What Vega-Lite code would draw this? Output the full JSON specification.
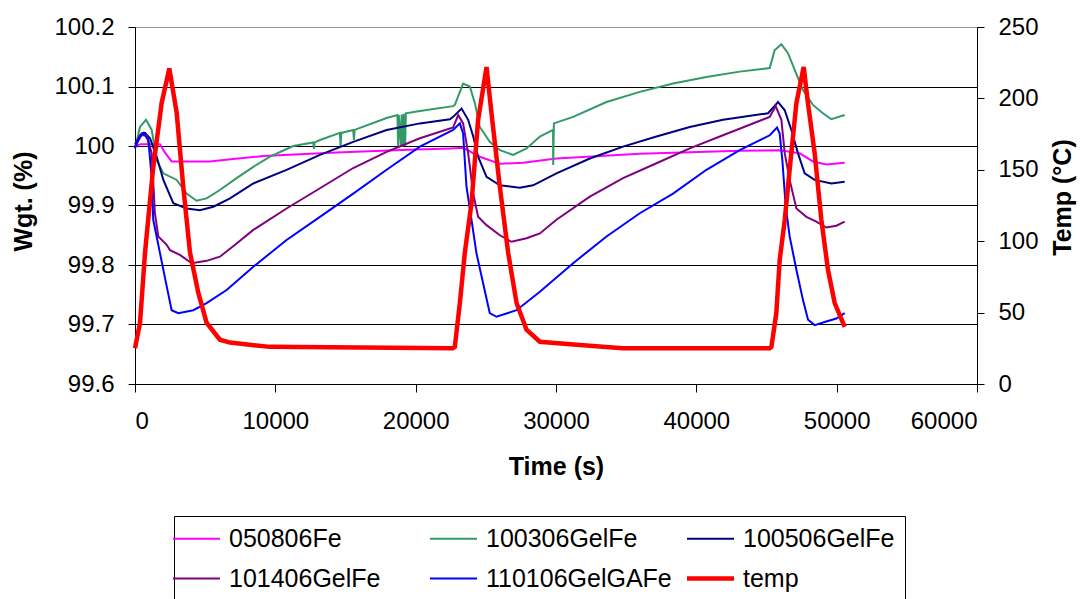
{
"$schema": "https://vega.github.io/schema/vega-lite/v6.json",
"width": 842, "height": 357,
"autosize": {"type": "none"},
"padding": {"left": 135, "top": 27, "right": 103, "bottom": 215},
"background": "white",
"config": {
  "font": "Liberation Sans",
  "view": {"stroke": "#999", "strokeWidth": 1},
  "axis": {"labelFont": "Liberation Sans", "labelFontSize": 24, "labelColor": "#000", "titleFont": "Liberation Sans", "titleFontSize": 25, "titleFontWeight": "bold", "titleColor": "#000", "domainColor": "#000", "tickColor": "#000", "domainWidth": 1, "tickWidth": 1}
},
"data": {"values": [
{"s":"050806Fe","t":0,"v":100.0},{"s":"050806Fe","t":400,"v":100.003},{"s":"050806Fe","t":1780,"v":100.003},{"s":"050806Fe","t":2100,"v":99.99},{"s":"050806Fe","t":2610,"v":99.974},{"s":"050806Fe","t":5340,"v":99.974},{"s":"050806Fe","t":6980,"v":99.978},{"s":"050806Fe","t":8680,"v":99.982},{"s":"050806Fe","t":9120,"v":99.983},{"s":"050806Fe","t":14360,"v":99.989},{"s":"050806Fe","t":20000,"v":99.994},{"s":"050806Fe","t":22500,"v":99.996},{"s":"050806Fe","t":23380,"v":99.997},{"s":"050806Fe","t":24570,"v":99.982},{"s":"050806Fe","t":26000,"v":99.970},{"s":"050806Fe","t":27650,"v":99.972},{"s":"050806Fe","t":30030,"v":99.979},{"s":"050806Fe","t":35970,"v":99.987},{"s":"050806Fe","t":43090,"v":99.992},{"s":"050806Fe","t":45940,"v":99.993},{"s":"050806Fe","t":47360,"v":99.988},{"s":"050806Fe","t":48310,"v":99.974},{"s":"050806Fe","t":49260,"v":99.969},{"s":"050806Fe","t":50570,"v":99.972},
{"s":"100306GelFe","t":0,"v":99.996},{"s":"100306GelFe","t":356,"v":100.032},{"s":"100306GelFe","t":783,"v":100.044},{"s":"100306GelFe","t":1190,"v":100.027},{"s":"100306GelFe","t":1545,"v":99.976},{"s":"100306GelFe","t":2020,"v":99.954},{"s":"100306GelFe","t":2970,"v":99.943},{"s":"100306GelFe","t":3680,"v":99.920},{"s":"100306GelFe","t":4390,"v":99.908},{"s":"100306GelFe","t":5100,"v":99.912},{"s":"100306GelFe","t":6050,"v":99.926},{"s":"100306GelFe","t":7240,"v":99.946},{"s":"100306GelFe","t":8430,"v":99.965},{"s":"100306GelFe","t":9620,"v":99.982},{"s":"100306GelFe","t":11270,"v":100.000},{"s":"100306GelFe","t":12700,"v":100.006},{"s":"100306GelFe","t":12750,"v":99.995},{"s":"100306GelFe","t":12800,"v":100.006},{"s":"100306GelFe","t":13180,"v":100.010},{"s":"100306GelFe","t":14600,"v":100.022},{"s":"100306GelFe","t":14650,"v":99.999},{"s":"100306GelFe","t":14700,"v":100.022},{"s":"100306GelFe","t":15550,"v":100.027},{"s":"100306GelFe","t":15600,"v":100.010},{"s":"100306GelFe","t":15650,"v":100.027},{"s":"100306GelFe","t":17930,"v":100.047},{"s":"100306GelFe","t":18700,"v":100.052},{"s":"100306GelFe","t":18750,"v":99.999},{"s":"100306GelFe","t":18800,"v":100.052},{"s":"100306GelFe","t":18950,"v":99.999},{"s":"100306GelFe","t":19000,"v":100.053},{"s":"100306GelFe","t":19100,"v":99.999},{"s":"100306GelFe","t":19150,"v":100.054},{"s":"100306GelFe","t":19250,"v":100.000},{"s":"100306GelFe","t":19300,"v":100.055},{"s":"100306GelFe","t":20300,"v":100.059},{"s":"100306GelFe","t":22670,"v":100.067},{"s":"100306GelFe","t":22790,"v":100.069},{"s":"100306GelFe","t":23380,"v":100.105},{"s":"100306GelFe","t":23860,"v":100.100},{"s":"100306GelFe","t":24220,"v":100.072},{"s":"100306GelFe","t":24570,"v":100.032},{"s":"100306GelFe","t":25280,"v":100.007},{"s":"100306GelFe","t":26000,"v":99.993},{"s":"100306GelFe","t":26950,"v":99.985},{"s":"100306GelFe","t":27900,"v":99.996},{"s":"100306GelFe","t":28850,"v":100.016},{"s":"100306GelFe","t":29790,"v":100.027},{"s":"100306GelFe","t":29800,"v":99.968},{"s":"100306GelFe","t":29850,"v":100.038},{"s":"100306GelFe","t":31220,"v":100.049},{"s":"100306GelFe","t":33600,"v":100.074},{"s":"100306GelFe","t":35970,"v":100.091},{"s":"100306GelFe","t":38340,"v":100.105},{"s":"100306GelFe","t":40720,"v":100.116},{"s":"100306GelFe","t":43090,"v":100.125},{"s":"100306GelFe","t":45230,"v":100.131},{"s":"100306GelFe","t":45580,"v":100.161},{"s":"100306GelFe","t":46060,"v":100.171},{"s":"100306GelFe","t":46530,"v":100.156},{"s":"100306GelFe","t":47010,"v":100.128},{"s":"100306GelFe","t":47600,"v":100.094},{"s":"100306GelFe","t":48310,"v":100.069},{"s":"100306GelFe","t":49020,"v":100.055},{"s":"100306GelFe","t":49620,"v":100.045},{"s":"100306GelFe","t":50570,"v":100.052},
{"s":"100506GelFe","t":0,"v":100.003},{"s":"100506GelFe","t":475,"v":100.021},{"s":"100506GelFe","t":712,"v":100.022},{"s":"100506GelFe","t":1070,"v":100.013},{"s":"100506GelFe","t":1545,"v":99.982},{"s":"100506GelFe","t":2020,"v":99.943},{"s":"100506GelFe","t":2730,"v":99.904},{"s":"100506GelFe","t":3680,"v":99.895},{"s":"100506GelFe","t":4630,"v":99.892},{"s":"100506GelFe","t":5580,"v":99.898},{"s":"100506GelFe","t":6770,"v":99.912},{"s":"100506GelFe","t":8430,"v":99.937},{"s":"100506GelFe","t":10800,"v":99.960},{"s":"100506GelFe","t":13180,"v":99.985},{"s":"100506GelFe","t":15550,"v":100.007},{"s":"100506GelFe","t":17930,"v":100.027},{"s":"100506GelFe","t":20300,"v":100.038},{"s":"100506GelFe","t":22440,"v":100.045},{"s":"100506GelFe","t":22670,"v":100.049},{"s":"100506GelFe","t":23270,"v":100.063},{"s":"100506GelFe","t":23740,"v":100.044},{"s":"100506GelFe","t":24100,"v":100.016},{"s":"100506GelFe","t":24450,"v":99.982},{"s":"100506GelFe","t":25050,"v":99.948},{"s":"100506GelFe","t":26000,"v":99.934},{"s":"100506GelFe","t":27420,"v":99.930},{"s":"100506GelFe","t":28370,"v":99.934},{"s":"100506GelFe","t":30030,"v":99.954},{"s":"100506GelFe","t":32410,"v":99.979},{"s":"100506GelFe","t":34780,"v":99.999},{"s":"100506GelFe","t":37160,"v":100.016},{"s":"100506GelFe","t":39530,"v":100.032},{"s":"100506GelFe","t":41900,"v":100.044},{"s":"100506GelFe","t":45110,"v":100.055},{"s":"100506GelFe","t":45820,"v":100.074},{"s":"100506GelFe","t":46300,"v":100.060},{"s":"100506GelFe","t":46770,"v":100.027},{"s":"100506GelFe","t":47240,"v":99.988},{"s":"100506GelFe","t":47720,"v":99.954},{"s":"100506GelFe","t":48430,"v":99.943},{"s":"100506GelFe","t":49620,"v":99.937},{"s":"100506GelFe","t":50570,"v":99.940},
{"s":"101406GelFe","t":0,"v":100.000},{"s":"101406GelFe","t":475,"v":100.018},{"s":"101406GelFe","t":830,"v":100.018},{"s":"101406GelFe","t":1190,"v":99.988},{"s":"101406GelFe","t":1420,"v":99.887},{"s":"101406GelFe","t":1660,"v":99.848},{"s":"101406GelFe","t":2260,"v":99.834},{"s":"101406GelFe","t":2490,"v":99.825},{"s":"101406GelFe","t":3200,"v":99.817},{"s":"101406GelFe","t":4040,"v":99.803},{"s":"101406GelFe","t":5100,"v":99.807},{"s":"101406GelFe","t":6050,"v":99.814},{"s":"101406GelFe","t":7240,"v":99.836},{"s":"101406GelFe","t":8430,"v":99.859},{"s":"101406GelFe","t":10800,"v":99.895},{"s":"101406GelFe","t":13180,"v":99.929},{"s":"101406GelFe","t":15550,"v":99.963},{"s":"101406GelFe","t":17930,"v":99.990},{"s":"101406GelFe","t":20300,"v":100.013},{"s":"101406GelFe","t":22670,"v":100.031},{"s":"101406GelFe","t":23030,"v":100.052},{"s":"101406GelFe","t":23380,"v":100.038},{"s":"101406GelFe","t":23740,"v":99.988},{"s":"101406GelFe","t":24100,"v":99.920},{"s":"101406GelFe","t":24450,"v":99.881},{"s":"101406GelFe","t":25050,"v":99.867},{"s":"101406GelFe","t":26000,"v":99.850},{"s":"101406GelFe","t":26830,"v":99.839},{"s":"101406GelFe","t":27900,"v":99.845},{"s":"101406GelFe","t":28850,"v":99.853},{"s":"101406GelFe","t":30030,"v":99.876},{"s":"101406GelFe","t":32410,"v":99.915},{"s":"101406GelFe","t":34780,"v":99.946},{"s":"101406GelFe","t":37160,"v":99.971},{"s":"101406GelFe","t":39530,"v":99.996},{"s":"101406GelFe","t":41900,"v":100.018},{"s":"101406GelFe","t":45230,"v":100.049},{"s":"101406GelFe","t":45650,"v":100.067},{"s":"101406GelFe","t":46060,"v":100.044},{"s":"101406GelFe","t":46300,"v":99.988},{"s":"101406GelFe","t":46650,"v":99.943},{"s":"101406GelFe","t":47130,"v":99.895},{"s":"101406GelFe","t":47840,"v":99.881},{"s":"101406GelFe","t":48550,"v":99.873},{"s":"101406GelFe","t":49260,"v":99.863},{"s":"101406GelFe","t":49980,"v":99.866},{"s":"101406GelFe","t":50570,"v":99.873},
{"s":"110106GelGAFe","t":0,"v":99.996},{"s":"110106GelGAFe","t":356,"v":100.018},{"s":"110106GelGAFe","t":593,"v":100.022},{"s":"110106GelGAFe","t":950,"v":100.010},{"s":"110106GelGAFe","t":1190,"v":99.948},{"s":"110106GelGAFe","t":1300,"v":99.876},{"s":"110106GelGAFe","t":1780,"v":99.820},{"s":"110106GelGAFe","t":2260,"v":99.764},{"s":"110106GelGAFe","t":2610,"v":99.724},{"s":"110106GelGAFe","t":3090,"v":99.719},{"s":"110106GelGAFe","t":4150,"v":99.724},{"s":"110106GelGAFe","t":5100,"v":99.736},{"s":"110106GelGAFe","t":6530,"v":99.758},{"s":"110106GelGAFe","t":8430,"v":99.797},{"s":"110106GelGAFe","t":10800,"v":99.842},{"s":"110106GelGAFe","t":13180,"v":99.881},{"s":"110106GelGAFe","t":15550,"v":99.920},{"s":"110106GelGAFe","t":17930,"v":99.960},{"s":"110106GelGAFe","t":20300,"v":99.999},{"s":"110106GelGAFe","t":22670,"v":100.027},{"s":"110106GelGAFe","t":23150,"v":100.038},{"s":"110106GelGAFe","t":23380,"v":100.021},{"s":"110106GelGAFe","t":23620,"v":99.932},{"s":"110106GelGAFe","t":23980,"v":99.876},{"s":"110106GelGAFe","t":24330,"v":99.820},{"s":"110106GelGAFe","t":24810,"v":99.769},{"s":"110106GelGAFe","t":25280,"v":99.719},{"s":"110106GelGAFe","t":25760,"v":99.713},{"s":"110106GelGAFe","t":27190,"v":99.724},{"s":"110106GelGAFe","t":28850,"v":99.755},{"s":"110106GelGAFe","t":31220,"v":99.803},{"s":"110106GelGAFe","t":33600,"v":99.848},{"s":"110106GelGAFe","t":35970,"v":99.887},{"s":"110106GelGAFe","t":38340,"v":99.920},{"s":"110106GelGAFe","t":40720,"v":99.960},{"s":"110106GelGAFe","t":43090,"v":99.993},{"s":"110106GelGAFe","t":45230,"v":100.018},{"s":"110106GelGAFe","t":45750,"v":100.031},{"s":"110106GelGAFe","t":45940,"v":100.021},{"s":"110106GelGAFe","t":46130,"v":99.976},{"s":"110106GelGAFe","t":46370,"v":99.898},{"s":"110106GelGAFe","t":46650,"v":99.848},{"s":"110106GelGAFe","t":47130,"v":99.792},{"s":"110106GelGAFe","t":47600,"v":99.741},{"s":"110106GelGAFe","t":47960,"v":99.708},{"s":"110106GelGAFe","t":48430,"v":99.699},{"s":"110106GelGAFe","t":49260,"v":99.705},{"s":"110106GelGAFe","t":49980,"v":99.710},{"s":"110106GelGAFe","t":50570,"v":99.719},
{"s":"temp","t":0,"v":25},{"s":"temp","t":356,"v":42.7},{"s":"temp","t":712,"v":91.7},{"s":"temp","t":1280,"v":150},{"s":"temp","t":1900,"v":196.8},{"s":"temp","t":2445,"v":221},{"s":"temp","t":2970,"v":190},{"s":"temp","t":3440,"v":138},{"s":"temp","t":3920,"v":92},{"s":"temp","t":4510,"v":64},{"s":"temp","t":5100,"v":43},{"s":"temp","t":6050,"v":31},{"s":"temp","t":6770,"v":29},{"s":"temp","t":9600,"v":26},{"s":"temp","t":22650,"v":25},{"s":"temp","t":22790,"v":26},{"s":"temp","t":23150,"v":56.7},{"s":"temp","t":23500,"v":91.7},{"s":"temp","t":23980,"v":126.7},{"s":"temp","t":24450,"v":185},{"s":"temp","t":25050,"v":222},{"s":"temp","t":25400,"v":190},{"s":"temp","t":26000,"v":138},{"s":"temp","t":26590,"v":92},{"s":"temp","t":27190,"v":56.7},{"s":"temp","t":27900,"v":38},{"s":"temp","t":28850,"v":29.6},{"s":"temp","t":31700,"v":27.3},{"s":"temp","t":34760,"v":25},{"s":"temp","t":45230,"v":25},{"s":"temp","t":45350,"v":26},{"s":"temp","t":45700,"v":49.6},{"s":"temp","t":45940,"v":86.8},{"s":"temp","t":46300,"v":114.8},{"s":"temp","t":46650,"v":150},{"s":"temp","t":47130,"v":196.8},{"s":"temp","t":47650,"v":222},{"s":"temp","t":47950,"v":197},{"s":"temp","t":48430,"v":161.8},{"s":"temp","t":48910,"v":115},{"s":"temp","t":49380,"v":80},{"s":"temp","t":49860,"v":56.7},{"s":"temp","t":50570,"v":40}
]},
"layer": [
  {
    "transform": [{"filter": "datum.s !== 'temp'"}],
    "mark": {"type": "line", "strokeWidth": 2},
    "encoding": {
      "x": {"field": "t", "type": "quantitative", "scale": {"domain": [0, 60000], "nice": false},
        "axis": {"values": [0, 10000, 20000, 30000, 40000, 50000, 60000], "format": "d", "grid": false, "tickSize": 8, "labelPadding": 17, "title": "Time (s)", "titleY": 82, "titleBaseline": "middle"}},
      "y": {"field": "v", "type": "quantitative", "scale": {"domain": [99.6, 100.2], "nice": false, "zero": false},
        "axis": {"orient": "left", "values": [99.6, 99.7, 99.8, 99.9, 100, 100.1, 100.2], "labelExpr": "'' + round(datum.value*10)/10", "grid": true, "gridColor": {"condition": {"test": "datum.value >= 100.15", "value": "#999"}, "value": "#000"}, "gridWidth": 1, "tickSize": 7, "labelPadding": 14, "title": "Wgt. (%)", "titleAngle": -90, "titleX": -112, "titleY": 174, "titleAlign": "center", "titleBaseline": "middle"}},
      "color": {"field": "s", "type": "nominal",
        "scale": {"domain": ["050806Fe", "100306GelFe", "100506GelFe", "101406GelFe", "110106GelGAFe", "temp"], "range": ["#FF00FF", "#339966", "#000080", "#800080", "#0000FF", "#FF0000"]},
        "legend": {"orient": "none", "legendX": 39, "legendY": 489, "direction": "horizontal", "columns": 3, "gridAlign": "all", "columnPadding": 6, "rowPadding": 14, "symbolType": "stroke", "symbolSize": 2209, "symbolStrokeWidth": 2, "labelFont": "Liberation Sans", "labelFontSize": 25, "labelOffset": 20, "labelColor": "#000", "labelLimit": 400, "strokeColor": "#000", "fillColor": "white", "padding": 10, "title": null,
          "encode": {"symbols": {"update": {"strokeWidth": {"signal": "datum.value === 'temp' ? 4.5 : 2"}}}}}}
    }
  },
  {
    "transform": [{"filter": "datum.s === 'temp'"}],
    "mark": {"type": "line", "strokeWidth": 4.5},
    "encoding": {
      "x": {"field": "t", "type": "quantitative"},
      "y": {"field": "v", "type": "quantitative", "scale": {"domain": [0, 250], "nice": false},
        "axis": {"orient": "right", "values": [0, 50, 100, 150, 200, 250], "format": "d", "grid": false, "tickSize": 7, "labelPadding": 14, "title": "Temp (°C)", "titleAngle": -90, "titleX": 85, "titleY": 170, "titleAlign": "center", "titleBaseline": "middle"}},
      "color": {"field": "s", "type": "nominal"}
    }
  }
],
"resolve": {"scale": {"y": "independent"}}
}
